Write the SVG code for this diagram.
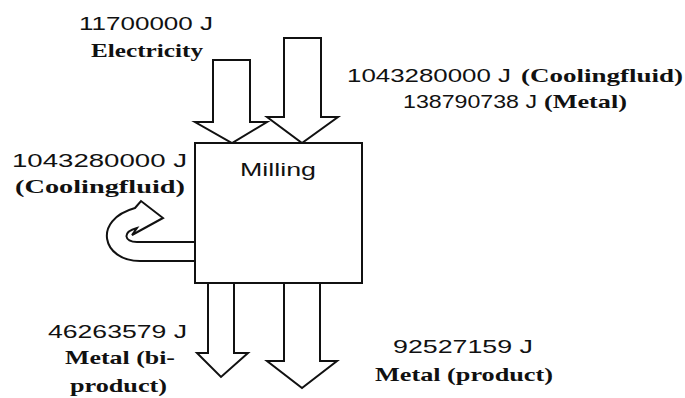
<svg xmlns="http://www.w3.org/2000/svg" width="685" height="398" viewBox="0 0 685 398">
<style>
.num{font-family:"Liberation Sans",Arial,sans-serif;font-size:19px;fill:#111}
.lab{font-family:"Liberation Serif","Times New Roman",serif;font-size:19px;font-weight:bold;fill:#111}
.shape{fill:#fff;stroke:#111;stroke-width:2;stroke-linejoin:miter}
</style>
<rect width="685" height="398" fill="#fff"/>
<g id="connectors">
  <polygon class="shape" points="213,60 250,60 250,122 267,122 232,143 195,122 213,122"/>
  <polygon class="shape" points="284,38 321,38 321,117 338,117 302,143 267,117 284,117"/>
  <polygon class="shape" points="208,283 234,283 234,353 248,353 221,377 197,353 208,353"/>
  <polygon class="shape" points="284,283 320,283 320,361 337,361 302,388 267,361 284,361"/>
  <path class="shape" d="M195,261 L140,261 C102,261 92,220 135,208 L141,201 L163,218 L132,235 L137,228 C122,232 124,242 137,242 L195,242"/>
</g>
<g id="milling">
  <rect class="shape" x="195" y="143" width="167" height="140"/>
  <text class="num" x="278" y="176" text-anchor="middle" textLength="76" lengthAdjust="spacingAndGlyphs">Milling</text>
</g>
<g id="electricity">
  <text class="num" x="146" y="30" text-anchor="middle" textLength="134" lengthAdjust="spacingAndGlyphs">11700000 J</text>
  <text class="lab" x="147" y="57" text-anchor="middle" textLength="112" lengthAdjust="spacingAndGlyphs">Electricity</text>
</g>
<g id="input-right">
  <text class="num" x="347" y="82" textLength="164" lengthAdjust="spacingAndGlyphs">1043280000 J</text>
  <text class="lab" x="521" y="82" textLength="162" lengthAdjust="spacingAndGlyphs">(Coolingfluid)</text>
  <text class="num" x="403" y="108" textLength="134" lengthAdjust="spacingAndGlyphs">138790738 J</text>
  <text class="lab" x="544" y="108" textLength="83" lengthAdjust="spacingAndGlyphs">(Metal)</text>
</g>
<g id="recycle">
  <text class="num" x="12" y="167" textLength="175" lengthAdjust="spacingAndGlyphs">1043280000  J</text>
  <text class="lab" x="15" y="193" textLength="170" lengthAdjust="spacingAndGlyphs">(Coolingfluid)</text>
</g>
<g id="byproduct">
  <text class="num" x="48" y="338" textLength="139" lengthAdjust="spacingAndGlyphs">46263579 J</text>
  <text class="lab" x="65" y="364" textLength="110" lengthAdjust="spacingAndGlyphs">Metal (bi-</text>
  <text class="lab" x="70" y="392" textLength="97" lengthAdjust="spacingAndGlyphs">product)</text>
</g>
<g id="product">
  <text class="num" x="393" y="353" textLength="140" lengthAdjust="spacingAndGlyphs">92527159 J</text>
  <text class="lab" x="375" y="381" textLength="178" lengthAdjust="spacingAndGlyphs">Metal (product)</text>
</g>
</svg>
